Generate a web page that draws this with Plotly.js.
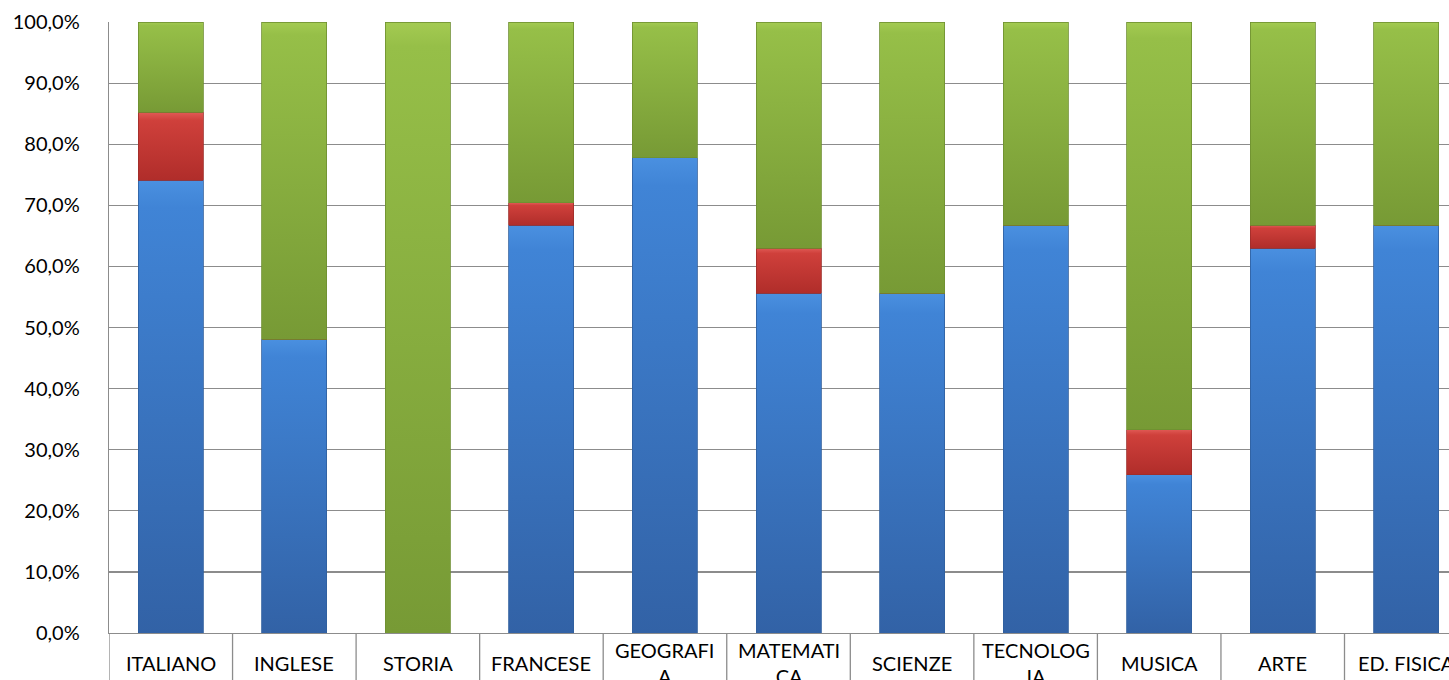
<!DOCTYPE html>
<html>
<head>
<meta charset="utf-8">
<script src="https://cdn.plot.ly/plotly-3.0.1.min.js"></script>
<style>
  html, body { margin: 0; padding: 0; background: #ffffff; overflow: hidden; }
  #chart { width: 1449px; height: 680px; }
</style>
</head>
<body>
<div id="chart"></div>
<script>
// Categories (subjects) and their wrapped labels as shown under the axis
const categories = ["ITALIANO", "INGLESE", "STORIA", "FRANCESE", "GEOGRAFIA", "MATEMATICA",
                    "SCIENZE", "TECNOLOGIA", "MUSICA", "ARTE", "ED. FISICA"];
const categoryLabels = ["ITALIANO", "INGLESE", "STORIA", "FRANCESE", "GEOGRAFI<br>A", "MATEMATI<br>CA",
                        "SCIENZE", "TECNOLOG<br>IA", "MUSICA", "ARTE", "ED. FISICA"];

// Series shares (fraction of 1)
const blueValues  = [0.741, 0.481, 0.000, 0.667, 0.778, 0.556, 0.556, 0.667, 0.259, 0.630, 0.667];
const redValues   = [0.111, 0.000, 0.000, 0.037, 0.000, 0.074, 0.000, 0.000, 0.074, 0.037, 0.000];
const greenValues = [0.148, 0.519, 1.000, 0.296, 0.222, 0.370, 0.444, 0.333, 0.667, 0.333, 0.333];

const yTickValues = [0, 0.1, 0.2, 0.3, 0.4, 0.5, 0.6, 0.7, 0.8, 0.9, 1.0];

const FONT = "Lato, 'Open Sans', 'Liberation Sans', sans-serif";

function barTrace(name, values, color, lineColor) {
  return {
    type: "bar",
    name: name,
    x: categories,
    y: values,
    marker: { color: color, line: { color: lineColor, width: 0.8 } },
    hoverinfo: "x+y",
    showlegend: false
  };
}

const traces = [
  barTrace("blu", blueValues, "#3b76c6", "#2f5f9e"),
  barTrace("rosso", redValues, "#c43c37", "#9e2d29"),
  barTrace("verde", greenValues, "#8bb23f", "#6e8e31")
];

// grey cell separators of the category "table" under the plot
const shapes = [];
for (let i = 0; i <= categories.length; i++) {
  shapes.push({
    type: "line", xref: "x", yref: "paper",
    x0: i - 0.5, x1: i - 0.5, y0: -0.2, y1: 0,
    line: { color: "#8c8c8c", width: 1.3 }
  });
}

// category labels, vertically centred in their cells (as the reference does)
const annotations = categories.map((c, i) => ({
  xref: "x", yref: "paper",
  x: c, y: -0.0491,
  text: categoryLabels[i],
  showarrow: false,
  xanchor: "center", yanchor: "middle",
  align: "center",
  font: { family: FONT, size: 20, color: "#000000" }
}));

const layout = {
  width: 1449,
  height: 680,
  margin: { l: 109, r: 0, t: 22, b: 47, pad: 0 },
  paper_bgcolor: "#ffffff",
  plot_bgcolor: "#ffffff",
  barmode: "stack",
  bargap: 0.474,
  separators: ",.",
  showlegend: false,
  font: { family: FONT, size: 16, color: "#000000" },
  xaxis: {
    type: "category",
    range: [-0.5, -0.5 + (1449 - 109) / 123.55],
    showticklabels: false,
    ticks: "",
    showgrid: false,
    showline: true,
    linecolor: "#8c8c8c",
    linewidth: 1.3,
    zeroline: false,
    fixedrange: true
  },
  yaxis: {
    range: [0, 1],
    tickvals: yTickValues,
    tickformat: ".1%",
    ticks: "",
    ticklabelstandoff: 24,
    showgrid: true,
    gridcolor: "#8c8c8c",
    gridwidth: 1.2,
    showline: true,
    linecolor: "#8c8c8c",
    linewidth: 1.3,
    zeroline: false,
    tickfont: { family: FONT, size: 20, color: "#000000" },
    fixedrange: true
  },
  shapes: shapes,
  annotations: annotations
};

Plotly.newPlot("chart", traces, layout, { displayModeBar: false, staticPlot: true }).then(function (gd) {
  // add Excel-like shaded fills to the bars drawn by Plotly
  const svgNS = "http://www.w3.org/2000/svg";
  const svg = gd.querySelector(".main-svg");
  let defs = svg.querySelector("defs");
  if (!defs) { defs = document.createElementNS(svgNS, "defs"); svg.insertBefore(defs, svg.firstChild); }
  const grads = [
    ["gBlue",  [["0", "#4a90e0"], ["0.06", "#4084d6"], ["1", "#3262a6"]]],
    ["gRed",   [["0", "#e05a55"], ["0.12", "#cf403b"], ["1", "#b02d2a"]]],
    ["gGreen", [["0", "#a4cb52"], ["0.04", "#96bf48"], ["1", "#779a35"]]]
  ];
  grads.forEach(function (g) {
    const lg = document.createElementNS(svgNS, "linearGradient");
    lg.setAttribute("id", g[0]);
    lg.setAttribute("x1", "0"); lg.setAttribute("y1", "0");
    lg.setAttribute("x2", "0"); lg.setAttribute("y2", "1");
    g[1].forEach(function (s) {
      const st = document.createElementNS(svgNS, "stop");
      st.setAttribute("offset", s[0]);
      st.setAttribute("stop-color", s[1]);
      lg.appendChild(st);
    });
    defs.appendChild(lg);
  });
  const traceGroups = gd.querySelectorAll(".barlayer .trace");
  traceGroups.forEach(function (tg, idx) {
    tg.querySelectorAll(".point path").forEach(function (p) {
      p.style.fill = "url(#" + grads[idx][0] + ")";
    });
  });
});
</script>
</body>
</html>
